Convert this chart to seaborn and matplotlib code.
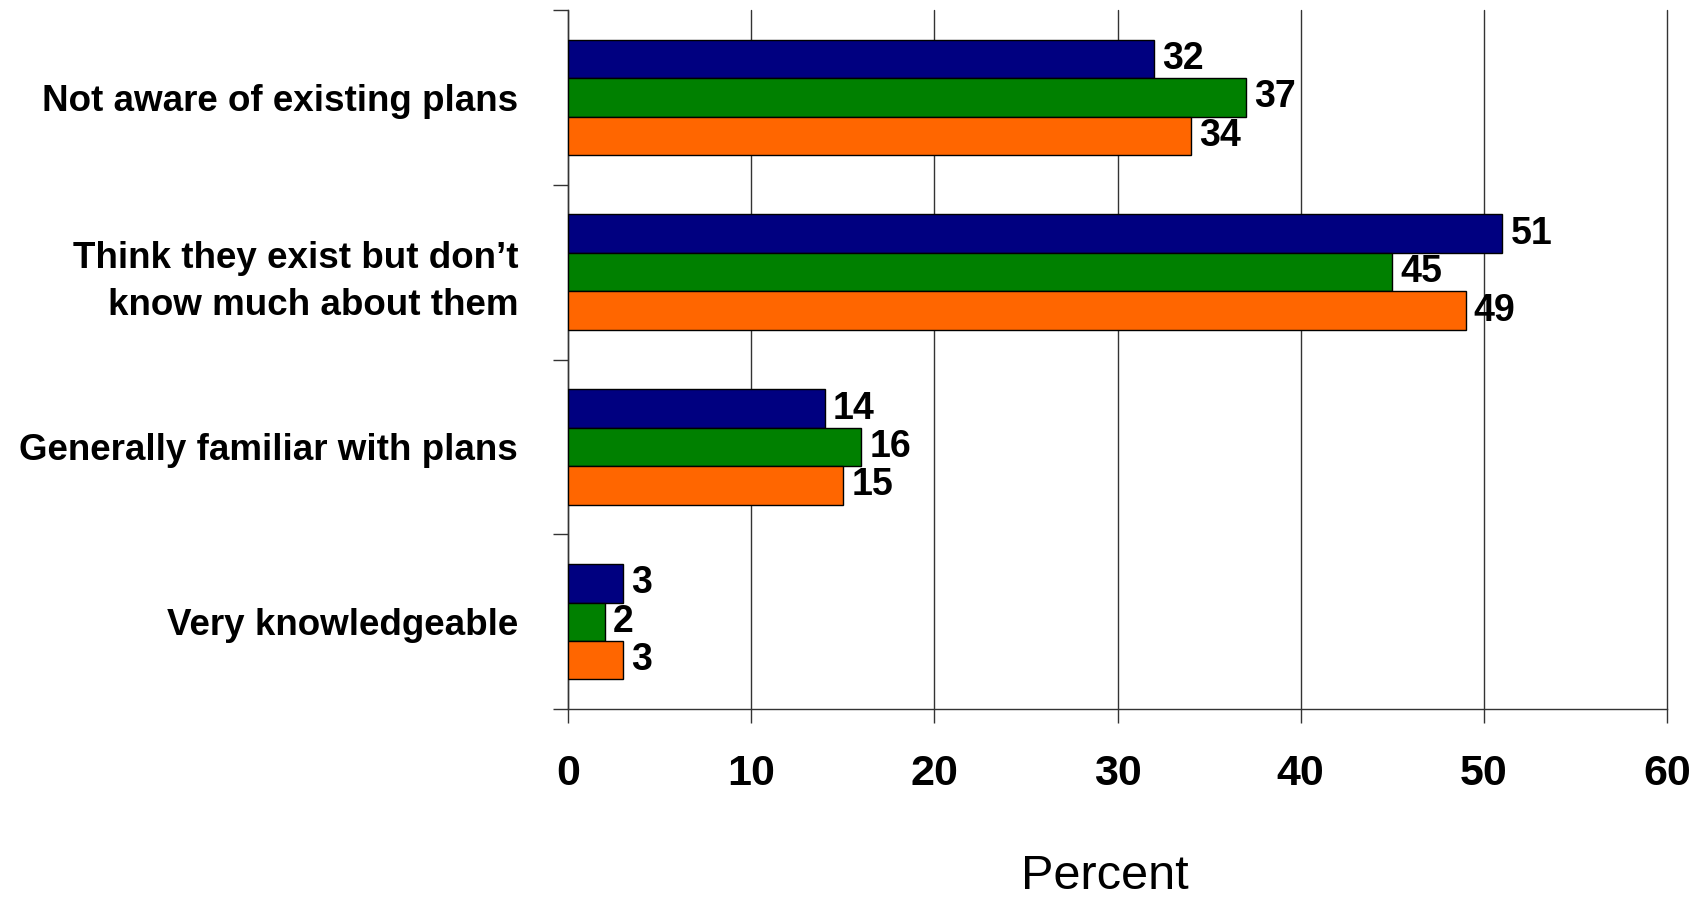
import matplotlib
matplotlib.use("Agg")
import matplotlib.pyplot as plt
import seaborn as sns
import pandas as pd
import numpy as np

# datos
categorias = ["Not aware of existing plans",
              "Think they exist but don\u2019t\nknow much about them",
              "Generally familiar with plans",
              "Very knowledgeable"]
series = ["Serie 1", "Serie 2", "Serie 3"]
valores_1 = [32, 51, 14, 3]
valores_2 = [37, 45, 16, 2]
valores_3 = [34, 49, 15, 3]
colores = ["#000080", "#008000", "#FF6600"]

df = pd.DataFrame({
    "categoria": categorias * 3,
    "serie": [series[0]] * 4 + [series[1]] * 4 + [series[2]] * 4,
    "valor": valores_1 + valores_2 + valores_3,
})

sns.set_style("white")
plt.rcParams["font.family"] = ["Liberation Sans", "DejaVu Sans"]
plt.rcParams["text.color"] = "black"
plt.rcParams["xtick.color"] = "black"
plt.rcParams["ytick.color"] = "black"
plt.rcParams["axes.labelcolor"] = "black"

fig = plt.figure(figsize=(17.01, 9), dpi=100)
ax = fig.add_axes([0.334, 0.212, 0.646, 0.777])

sns.barplot(data=df, y="categoria", x="valor", hue="serie", order=categorias,
            hue_order=series, palette=colores, orient="h", width=0.66,
            edgecolor="black", linewidth=1, saturation=1, ax=ax, zorder=3)

for cont in ax.containers:
    ax.bar_label(cont, padding=6, fontsize=27, fontweight="bold")

ax.legend().remove()
ax.set_xlim(0, 60)
ax.set_ylim(3.5, -0.5)
ax.set_xticks(np.arange(0, 61, 10))
ax.set_yticks(range(4))
ax.set_yticklabels(categorias, fontsize=26.5, fontweight="bold", ha="right",
                   linespacing=1.45)
ax.set_yticks(np.arange(-0.5, 4, 1), minor=True)
ax.tick_params(axis="y", which="major", length=0, pad=36)
ax.tick_params(axis="y", which="minor", length=11, width=1, color="#333333",
               direction="out", left=True)
ax.tick_params(axis="x", length=10, width=1, color="#333333", direction="out",
               bottom=True, pad=22, labelsize=31)
for lab in ax.get_xticklabels():
    lab.set_fontweight("bold")

ax.grid(axis="x", color="#333333", linewidth=1, zorder=0)
for gl in ax.get_xgridlines():
    gl.set_clip_on(False)
ax.grid(axis="y", visible=False)
for s in ["top", "right"]:
    ax.spines[s].set_visible(False)
for s in ["left", "bottom"]:
    ax.spines[s].set_color("#333333")
    ax.spines[s].set_linewidth(1)

ax.set_ylabel("")
ax.set_xlabel("Percent", fontsize=35, labelpad=48)
ax.xaxis.set_label_coords(0.488, -0.207)

fig.savefig("out.png", dpi=100)
